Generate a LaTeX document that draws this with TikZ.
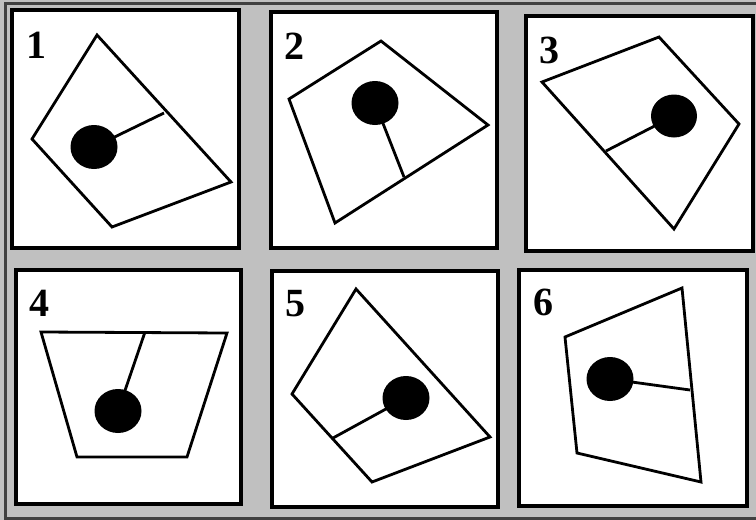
\documentclass[tikz,border=0pt]{standalone}
\usepackage{fontspec}
\setmainfont{Liberation Serif}
\begin{document}
\begin{tikzpicture}[x=1pt,y=-1pt,
  panel/.style={draw=black,line width=3.2pt,fill=white},
  quad/.style={draw=black,line width=2.8pt,line join=miter},
  stem/.style={draw=black,line width=2.8pt},
  dot/.style={fill=black},
  num/.style={inner sep=0pt,font=\fontsize{40}{40}\selectfont\bfseries}]
\useasboundingbox (0,0) rectangle (756,520);
\fill[gray!50!white,fill={rgb,255:red,192;green,192;blue,192}] (0,0) rectangle (756,520);
\draw[line width=3pt,draw={rgb,255:red,64;green,64;blue,64}] (756,3) -- (5,3) -- (5,518) -- (756,518);
% panels
\draw[panel] (12,10) rectangle (239,248);
\draw[panel] (271,12) rectangle (497,248);
\draw[panel] (526,16) rectangle (753,251);
\draw[panel] (16,270) rectangle (241,504);
\draw[panel] (272,271) rectangle (498,507);
\draw[panel] (519,270) rectangle (747,506);
% labels
\node[num] (n1) at (37,45) {1};
\node[num] (n2) at (294,46) {2};
\node[num] (n3) at (549,50) {3};
\node[num] (n4) at (39,303) {4};
\node[num] (n5) at (295,304) {5};
\node[num] (n6) at (543,302) {6};
% shape 1
\draw[quad] (97,35) -- (231,182) -- (112,227) -- (32,139) -- cycle;
\draw[stem] (94,147) -- (164,113);
\fill[dot] (94,147) ellipse [x radius=23.5, y radius=22];
% shape 2
\draw[quad] (381,41) -- (488,125) -- (335,223) -- (289,99) -- cycle;
\draw[stem] (375,103) -- (404,177);
\fill[dot] (375,103) ellipse [x radius=23.5, y radius=22];
% shape 3
\draw[quad] (659,37) -- (739,124) -- (674,229) -- (542,82) -- cycle;
\draw[stem] (674,116) -- (606,151);
\fill[dot] (674,116) ellipse [x radius=23, y radius=21.5];
% shape 4
\draw[quad] (41,332) -- (227,333) -- (187,457) -- (77,457) -- cycle;
\draw[stem] (118,411) -- (145,332);
\fill[dot] (118,411) ellipse [x radius=23.5, y radius=22];
% shape 5
\draw[quad] (356,289) -- (490,437) -- (372,482) -- (292,394) -- cycle;
\draw[stem] (406,398) -- (333,438);
\fill[dot] (406,398) ellipse [x radius=23.5, y radius=22];
% shape 6
\draw[quad] (682,288) -- (701,482) -- (577,453) -- (565,337) -- cycle;
\draw[stem] (610,379) -- (690,390);
\fill[dot] (610,379) ellipse [x radius=23.5, y radius=22];
\end{tikzpicture}
\end{document}
